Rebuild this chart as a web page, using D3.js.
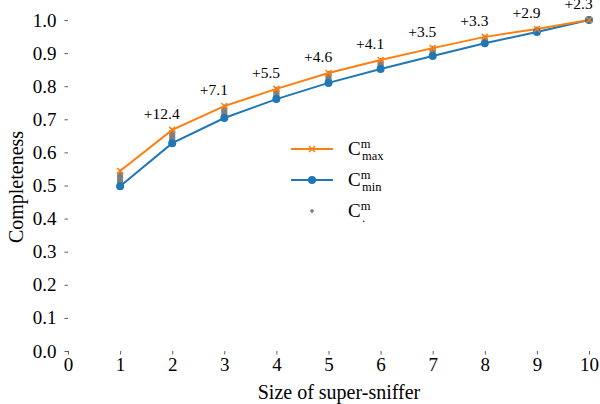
<!doctype html>
<html lang="en">
<head>
  <meta charset="utf-8">
  <title>Completeness vs super-sniffer size</title>
  <script src="https://cdnjs.cloudflare.com/ajax/libs/d3/7.8.5/d3.min.js"></script>
  <style>
    body { margin: 0; background: #fff; }
    text { font-family: "Liberation Serif", "DejaVu Serif", serif; }
  </style>
</head>
<body>
<svg width="600" height="404" id="svg"></svg>
<script>
// chart data
var sizes = [1, 2, 3, 4, 5, 6, 7, 8, 9, 10];
var cMax = [0.544, 0.668, 0.740, 0.792, 0.840, 0.879, 0.915, 0.949, 0.973, 1.0];
var cMin = [0.498, 0.628, 0.704, 0.761, 0.810, 0.852, 0.891, 0.930, 0.964, 1.0];
// the individual C^m_. points (grey +), one list per size
var cAll = [
  [0.503, 0.507, 0.511, 0.515, 0.519, 0.523, 0.527, 0.531, 0.535, 0.539],
  [0.632, 0.636, 0.640, 0.644, 0.648, 0.652, 0.656, 0.660, 0.664],
  [0.708, 0.712, 0.716, 0.720, 0.724, 0.728, 0.732, 0.736],
  [0.765, 0.769, 0.773, 0.777, 0.781, 0.785, 0.789],
  [0.814, 0.818, 0.822, 0.826, 0.830, 0.834, 0.837],
  [0.856, 0.860, 0.864, 0.868, 0.872, 0.876],
  [0.894, 0.898, 0.902, 0.906, 0.910, 0.913],
  [0.933, 0.937, 0.941, 0.945],
  [0.966, 0.969, 0.971],
  [1.0]
];
var gainSizes = [2, 3, 4, 5, 6, 7, 8, 9, 10];
var gainLabels = ['+12.4', '+7.1', '+5.5', '+4.6', '+4.1', '+3.5', '+3.3', '+2.9', '+2.3'];
var xTicks = [0, 1, 2, 3, 4, 5, 6, 7, 8, 9, 10];
var yTicks = [0, 0.1, 0.2, 0.3, 0.4, 0.5, 0.6, 0.7, 0.8, 0.9, 1.0];

var orange = '#ff7f0e', blue = '#1f77b4', grey = '#7f7f7f';

var svg = d3.select('#svg');

var x = d3.scaleLinear().domain([0, 10]).range([68, 589]);
var y = d3.scaleLinear().domain([0, 1]).range([351, 20]);

// axes without spines
var xAxis = svg.append('g')
  .attr('transform', 'translate(0,351)')
  .call(d3.axisBottom(x).tickValues(xTicks).tickSize(3.5).tickPadding(3).tickFormat(d3.format('d')));
var yAxis = svg.append('g')
  .attr('transform', 'translate(68,0)')
  .call(d3.axisLeft(y).tickValues(yTicks).tickSize(3.5).tickPadding(8).tickFormat(d3.format('.1f')));

[xAxis, yAxis].forEach(function(a) {
  a.select('.domain').remove();
  a.selectAll('line').attr('stroke', '#333').attr('stroke-width', 0.8);
  a.selectAll('text').attr('font-size', 19).attr('fill', '#000')
    .style('font-family', '"Liberation Serif", serif');
});

svg.append('text')
  .attr('x', 339).attr('y', 399)
  .attr('text-anchor', 'middle')
  .attr('font-size', 20)
  .text('Size of super-sniffer');

svg.append('text')
  .attr('transform', 'translate(23,187) rotate(-90)')
  .attr('text-anchor', 'middle')
  .attr('font-size', 20)
  .text('Completeness');

// grey + markers
var plusPath = 'M-3,0H3M0,-3V3';
sizes.forEach(function(s, i) {
  svg.selectAll(null)
    .data(cAll[i])
    .enter()
    .append('path')
    .attr('d', plusPath)
    .attr('transform', function(d) { return 'translate(' + x(s) + ',' + y(d) + ')'; })
    .attr('stroke', grey)
    .attr('stroke-width', 1.8);
});

var line = function(vals) {
  return d3.line().x(function(d, i) { return x(sizes[i]); }).y(function(d) { return y(d); })(vals);
};

svg.append('path').attr('d', line(cMin)).attr('fill', 'none').attr('stroke', blue).attr('stroke-width', 2);
svg.append('path').attr('d', line(cMax)).attr('fill', 'none').attr('stroke', orange).attr('stroke-width', 2);

svg.selectAll('.dot')
  .data(cMin)
  .enter()
  .append('circle')
  .attr('class', 'dot')
  .attr('cx', function(d, i) { return x(sizes[i]); })
  .attr('cy', function(d) { return y(d); })
  .attr('r', 4)
  .attr('fill', blue);

var crossPath = 'M-3,-3L3,3M-3,3L3,-3';
svg.selectAll('.cross')
  .data(cMax)
  .enter()
  .append('path')
  .attr('class', 'cross')
  .attr('d', crossPath)
  .attr('transform', function(d, i) { return 'translate(' + x(sizes[i]) + ',' + y(d) + ')'; })
  .attr('stroke', orange)
  .attr('stroke-width', 1.5);

// gain annotations
svg.selectAll('.gain')
  .data(gainLabels)
  .enter()
  .append('text')
  .attr('class', 'gain')
  .attr('x', function(d, i) { return x(gainSizes[i] - 0.2); })
  .attr('y', function(d, i) { return y(cMax[sizes.indexOf(gainSizes[i])] + 0.05); })
  .attr('dy', '0.35em')
  .attr('text-anchor', 'middle')
  .attr('font-size', 15.5)
  .text(function(d) { return d; });

// legend
var legend = svg.append('g');
var rows = [
  { y: 149, color: orange, kind: 'cross', sub: 'max' },
  { y: 180, color: blue, kind: 'dot', sub: 'min' },
  { y: 211, color: grey, kind: 'plus', sub: '.' }
];
rows.forEach(function(r) {
  if (r.kind !== 'plus') {
    legend.append('line')
      .attr('x1', 291).attr('x2', 333).attr('y1', r.y).attr('y2', r.y)
      .attr('stroke', r.color).attr('stroke-width', 2);
  }
  if (r.kind === 'cross') {
    legend.append('path').attr('d', crossPath)
      .attr('transform', 'translate(312,' + r.y + ')')
      .attr('stroke', r.color).attr('stroke-width', 1.5);
  } else if (r.kind === 'dot') {
    legend.append('circle').attr('cx', 312).attr('cy', r.y).attr('r', 4).attr('fill', r.color);
  } else {
    legend.append('path').attr('d', 'M-2,0H2M0,-2V2')
      .attr('transform', 'translate(312,' + r.y + ')')
      .attr('stroke', r.color).attr('stroke-width', 1.5);
  }
  var t = legend.append('text')
    .attr('x', 348).attr('y', r.y + 6)
    .attr('font-size', 19);
  t.append('tspan').text('C');
  t.append('tspan').attr('font-size', 12.5).attr('dy', -7).text('m');
  t.append('tspan').attr('font-size', 12.5).attr('x', 362).attr('dy', 12).text(r.sub);
});
</script>
</body>
</html>
